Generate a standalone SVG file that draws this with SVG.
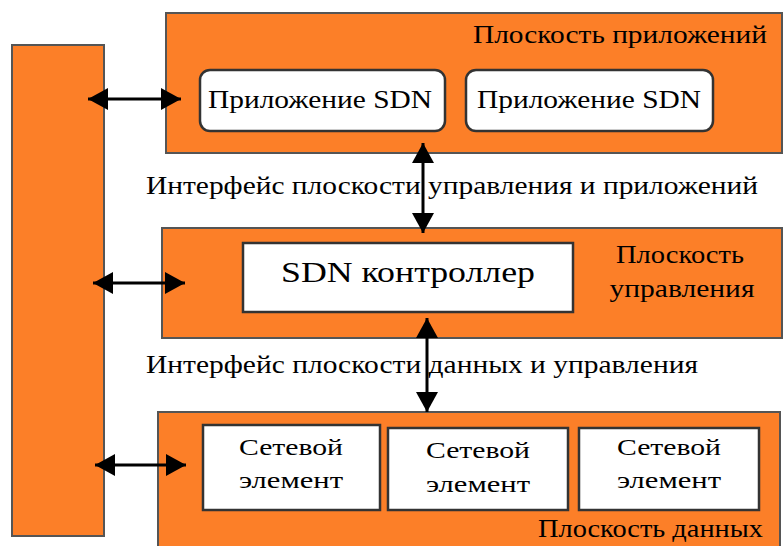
<svg xmlns="http://www.w3.org/2000/svg" width="783" height="546" viewBox="0 0 783 546">
<style>
.plane{fill:#FC7F28;stroke:#555;stroke-width:2}
.box{fill:#fff;stroke:#333;stroke-width:2.5}
text{font-family:'Liberation Serif','Times New Roman',serif;fill:#000}
.conn{stroke:#000;stroke-width:3;fill:none;marker-start:url(#ah);marker-end:url(#ah)}
</style>
<defs>
<marker id="ah" viewBox="0 0 20 22" refX="20" refY="11" markerWidth="20" markerHeight="22" markerUnits="userSpaceOnUse" orient="auto-start-reverse">
<path d="M0,0 L20,11 L0,22 z" fill="#000"/>
</marker>
</defs>
<rect width="783" height="546" fill="#fff"/>
<g id="side-block"><rect class="plane" x="12" y="45" width="92" height="491"/></g>
<g id="app-plane">
<rect class="plane" x="166" y="13" width="616" height="140"/>
<text x="473" y="43" font-size="25" textLength="294" lengthAdjust="spacingAndGlyphs">Плоскость приложений</text>
</g>
<g id="app1">
<rect class="box" x="200" y="70" width="245" height="61" rx="10"/>
<text x="208" y="108" font-size="25" textLength="224" lengthAdjust="spacingAndGlyphs">Приложение SDN</text>
</g>
<g id="app2">
<rect class="box" x="466" y="70" width="247" height="61" rx="10"/>
<text x="477" y="108" font-size="25" textLength="224" lengthAdjust="spacingAndGlyphs">Приложение SDN</text>
</g>
<g id="label-nbi"><text x="146" y="194" font-size="25" textLength="612" lengthAdjust="spacingAndGlyphs">Интерфейс плоскости управления и приложений</text></g>
<g id="control-plane">
<rect class="plane" x="162" y="228" width="620" height="110"/>
<text x="680" y="263" font-size="25" text-anchor="middle" textLength="128" lengthAdjust="spacingAndGlyphs">Плоскость</text>
<text x="682" y="297" font-size="25" text-anchor="middle" textLength="145" lengthAdjust="spacingAndGlyphs">управления</text>
</g>
<g id="controller">
<rect class="box" x="243" y="243" width="330" height="69"/>
<text x="408" y="282" font-size="30" text-anchor="middle" textLength="254" lengthAdjust="spacingAndGlyphs">SDN контроллер</text>
</g>
<g id="label-sbi"><text x="146" y="373" font-size="25" textLength="552" lengthAdjust="spacingAndGlyphs">Интерфейс плоскости данных и управления</text></g>
<g id="data-plane">
<rect class="plane" x="158" y="412" width="622" height="140"/>
<text x="538" y="537" font-size="25" textLength="225" lengthAdjust="spacingAndGlyphs">Плоскость данных</text>
</g>
<g id="ne1">
<rect class="box" x="203" y="425" width="177" height="85"/>
<text x="291" y="455" font-size="24" text-anchor="middle" textLength="104" lengthAdjust="spacingAndGlyphs">Сетевой</text>
<text x="291" y="488" font-size="24" text-anchor="middle" textLength="104" lengthAdjust="spacingAndGlyphs">элемент</text>
</g>
<g id="ne2">
<rect class="box" x="388" y="428" width="180" height="82"/>
<text x="478" y="458" font-size="24" text-anchor="middle" textLength="104" lengthAdjust="spacingAndGlyphs">Сетевой</text>
<text x="478" y="492" font-size="24" text-anchor="middle" textLength="104" lengthAdjust="spacingAndGlyphs">элемент</text>
</g>
<g id="ne3">
<rect class="box" x="579" y="428" width="180" height="82"/>
<text x="669" y="455" font-size="24" text-anchor="middle" textLength="104" lengthAdjust="spacingAndGlyphs">Сетевой</text>
<text x="669" y="488" font-size="24" text-anchor="middle" textLength="104" lengthAdjust="spacingAndGlyphs">элемент</text>
</g>
<g id="connectors">
<path class="conn" d="M88,99 L181,99"/>
<path class="conn" d="M93,283 L185,283"/>
<path class="conn" d="M95,465 L186,465"/>
<path class="conn" d="M423,143 L423,233"/>
<path class="conn" d="M427,318 L427,412"/>
</g>
</svg>
